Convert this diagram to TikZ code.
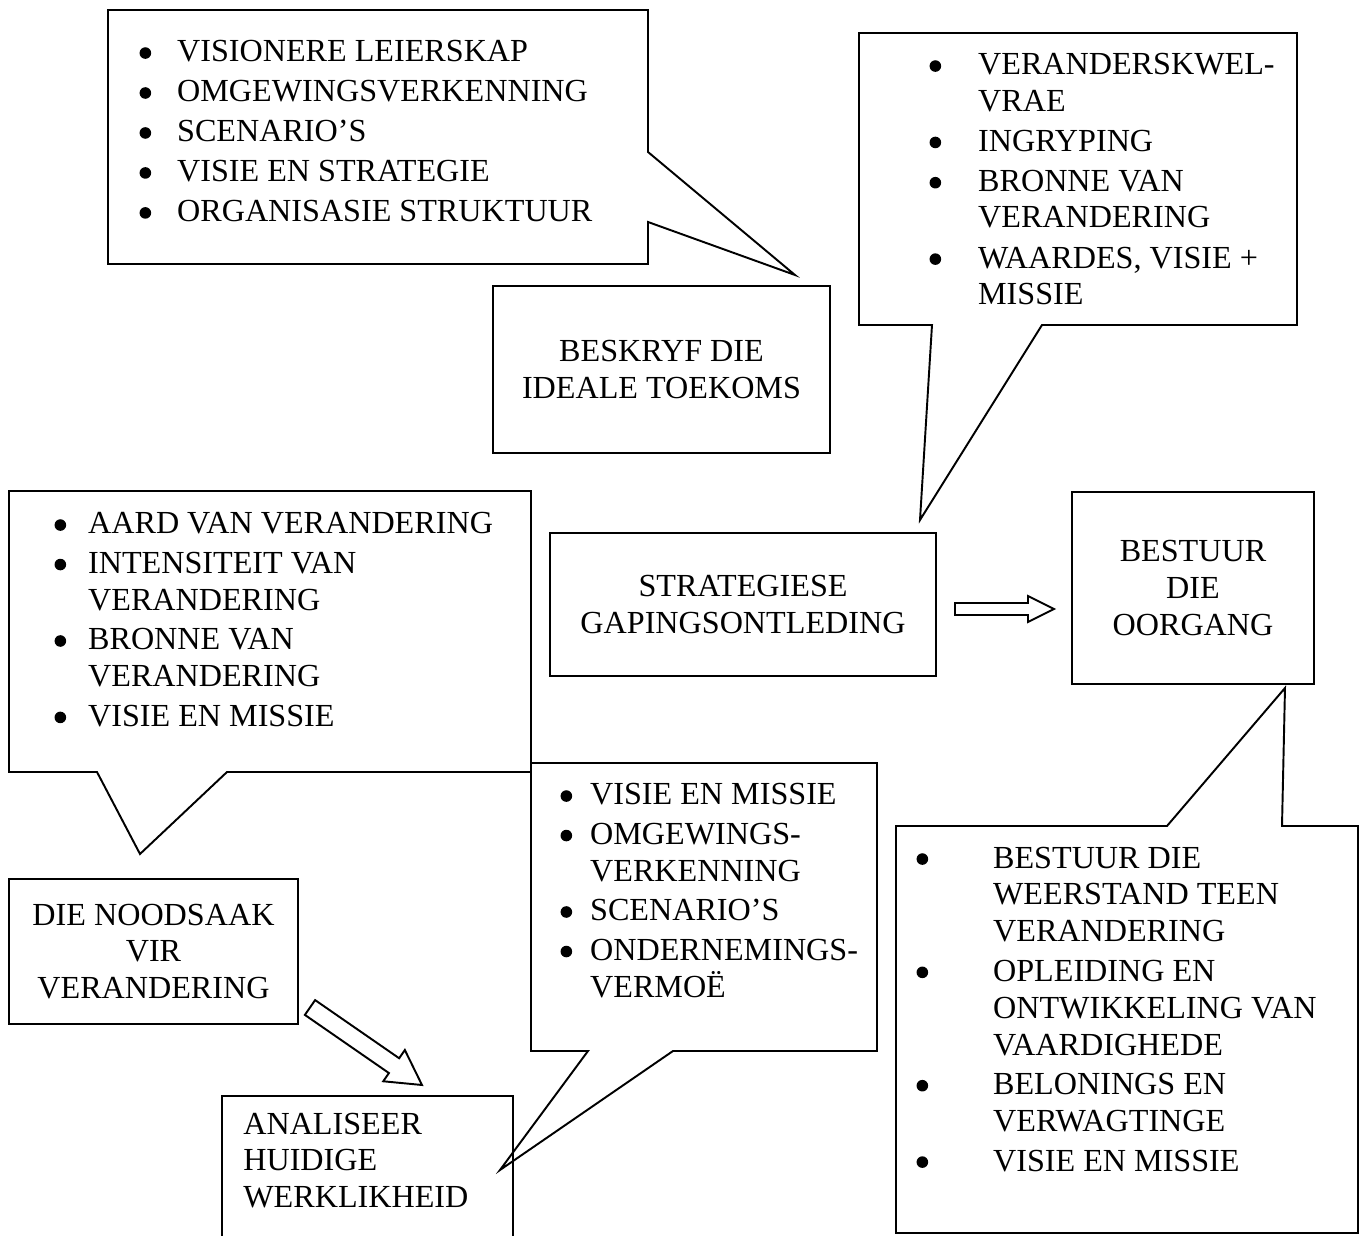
\documentclass[tikz,border=0pt]{standalone}
\usepackage{fontspec}
\setmainfont{Liberation Serif}
\usetikzlibrary{calc}

\newcommand{\blt}{\raisebox{1.8pt}{\tikz\fill (0,0) circle (3.3pt);}}
% hollow block arrow: start, end, shaft half width, head half width, head length (px)
\newcommand{\hollowarrow}[5]{%
  \coordinate (ha) at ($(#2)!#5*0.02cm!(#1)$);
  \draw[blockarrow] ($(#1)!#3*0.02cm!90:(#2)$) -- ($(ha)!#3*0.02cm!90:(#2)$)
    -- ($(ha)!#4*0.02cm!90:(#2)$) -- (#2) -- ($(ha)!#4*0.02cm!-90:(#2)$)
    -- ($(ha)!#3*0.02cm!-90:(#2)$) -- ($(#1)!#3*0.02cm!-90:(#2)$) -- cycle;}

\begin{document}
\begin{tikzpicture}[x=0.02cm,y=-0.02cm,
    every node/.style={font=\fontsize{18.3}{21}\selectfont},
    box/.style={draw,line width=1.1pt,align=center},
    callout/.style={draw,line width=1.1pt},
    blockarrow/.style={draw,line width=1.1pt,fill=white},
    list/.style={anchor=base west,inner sep=0pt}]
\useasboundingbox (0,0) rectangle (1360,1236);
\clip (0,0) rectangle (1360,1236);

% callouts
\draw[callout] (108,10) -- (648,10) -- (648,152) -- (795,275) -- (648,222)
  -- (648,264) -- (108,264) -- cycle;
\draw[callout] (859,33) -- (1297,33) -- (1297,325) -- (1042,325) -- (920,520)
  -- (932,325) -- (859,325) -- cycle;
\draw[callout] (9,491) -- (531,491) -- (531,772) -- (227,772) -- (140,854)
  -- (97,772) -- (9,772) -- cycle;
\draw[callout] (531,763) -- (877,763) -- (877,1051) -- (673,1051) -- (500,1170)
  -- (588,1051) -- (531,1051) -- cycle;
\draw[callout] (896,826) -- (1167,826) -- (1285,688) -- (1282,826) -- (1358,826)
  -- (1358,1233) -- (896,1233) -- cycle;

% boxes
\node[box,minimum width=6.74cm,minimum height=3.34cm] (ideal) at (661.5,369.5)
  {BESKRYF DIE\\IDEALE TOEKOMS};
\node[box,minimum width=7.72cm,minimum height=2.86cm] (gap) at (743,604.5)
  {STRATEGIESE\\GAPINGSONTLEDING};
\node[box,minimum width=4.84cm,minimum height=3.84cm] (manage) at (1193,588)
  {BESTUUR\\DIE\\OORGANG};
\node[box,minimum width=5.78cm,minimum height=2.9cm] (need) at (153.5,951.5)
  {DIE NOODSAAK\\VIR\\VERANDERING};
\node[box,anchor=north west,minimum width=5.82cm,minimum height=3.4cm] (now) at (221,1095) {};
\node[list] (nowtext) at (243,1134)
  {\begin{tabular}[t]{@{}l@{}}ANALISEER\\HUIDIGE\\WERKLIKHEID\end{tabular}};

% lists
\node[list,font=\fontsize{18.3}{22.75}\selectfont] (vision) at (139.2,62)
  {\begin{tabular}[t]{@{}l@{\hspace{0.52cm}}l@{}}
  \blt & VISIONERE LEIERSKAP\\
  \blt & OMGEWINGSVERKENNING\\
  \blt & SCENARIO’S\\
  \blt & VISIE EN STRATEGIE\\
  \blt & ORGANISASIE STRUKTUUR
  \end{tabular}};
\node[list,font=\fontsize{18.3}{20.6}\selectfont] (shift) at (929.2,75)
  {\begin{tabular}[t]{@{}l@{\hspace{0.74cm}}l@{}}
  \blt & VERANDERSKWEL-\\
       & VRAE\\[2.3pt]
  \blt & INGRYPING\\[2.3pt]
  \blt & BRONNE VAN\\
       & VERANDERING\\[2.3pt]
  \blt & WAARDES, VISIE +\\
       & MISSIE
  \end{tabular}};
\node[list] (reason) at (54.2,534)
  {\begin{tabular}[t]{@{}l@{\hspace{0.44cm}}l@{}}
  \blt & AARD VAN VERANDERING\\[1.5pt]
  \blt & INTENSITEIT VAN\\
       & VERANDERING\\[1.5pt]
  \blt & BRONNE VAN\\
       & VERANDERING\\[1.5pt]
  \blt & VISIE EN MISSIE
  \end{tabular}};
\node[list] (scan) at (560.2,805)
  {\begin{tabular}[t]{@{}l@{\hspace{0.36cm}}l@{}}
  \blt & VISIE EN MISSIE\\[1.5pt]
  \blt & OMGEWINGS-\\
       & VERKENNING\\[1.5pt]
  \blt & SCENARIO’S\\[1.5pt]
  \blt & ONDERNEMINGS-\\
       & VERMOË
  \end{tabular}};
\node[list] (steer) at (916.2,868)
  {\begin{tabular}[t]{@{}l@{\hspace{1.3cm}}l@{}}
  \blt & BESTUUR DIE\\
       & WEERSTAND  TEEN\\
       & VERANDERING\\[1.5pt]
  \blt & OPLEIDING EN\\
       & ONTWIKKELING VAN\\
       & VAARDIGHEDE\\[1.5pt]
  \blt & BELONINGS EN\\
       & VERWAGTINGE\\[1.5pt]
  \blt & VISIE EN MISSIE
  \end{tabular}};

% arrows
\coordinate (gapout) at (955,609);
\coordinate (managein) at (1054,609);
\hollowarrow{gapout}{managein}{6}{13}{26}
\coordinate (needout) at (310,1007.5);
\coordinate (nowin) at (422,1085);
\hollowarrow{needout}{nowin}{9}{19}{34}
\end{tikzpicture}
\end{document}
